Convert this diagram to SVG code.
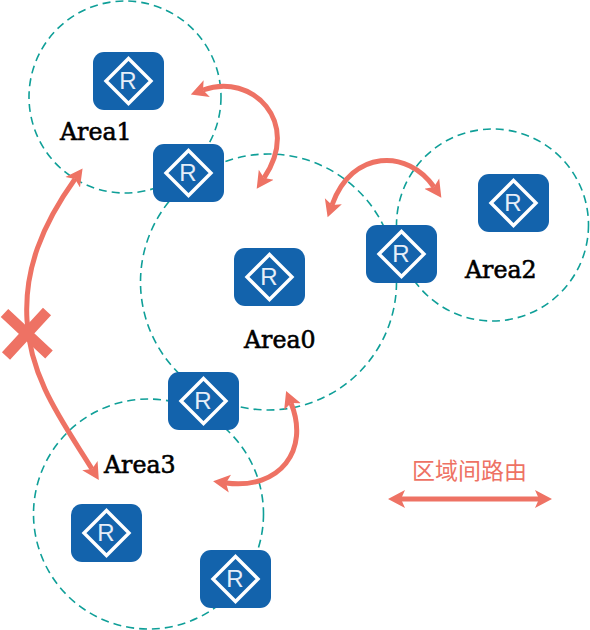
<svg xmlns="http://www.w3.org/2000/svg" width="590" height="630" viewBox="0 0 590 630">
<style>
.area{fill:none;stroke:#0f9f98;stroke-width:1.6;stroke-dasharray:8 5}
.box{fill:#1363ac}
.dia{fill:none;stroke:#fff;stroke-width:3.4}
.r{font:24px "Liberation Sans",Arial,sans-serif;fill:#e6eef8;text-anchor:middle}
.lbl{font:23.700px "DejaVu Serif",serif;fill:#000;stroke:#000;stroke-width:.6}
.arr{fill:none;stroke:#ee7264;stroke-width:5;marker-start:url(#h);marker-end:url(#h)}
</style>
<defs>
<marker id="h" markerUnits="userSpaceOnUse" markerWidth="24" markerHeight="24" refX="4" refY="10" orient="auto-start-reverse" viewBox="0 0 24 20">
<path d="M0 1L17 10L0 19L4 10Z" fill="#ee7264"/>
</marker>
<g id="router">
<rect class="box" x="-35.500" y="-29" width="71" height="58" rx="11"/>
<path class="dia" d="M0-22.500L22.500 0L0 22.500L-22.500 0Z"/>
<text class="r" x="-0.500" y="8">R</text>
</g>
</defs>
<g id="areas">
<circle class="area" cx="125" cy="97" r="96"/>
<circle class="area" cx="268.500" cy="282" r="128"/>
<circle class="area" cx="492.500" cy="225" r="96"/>
<circle class="area" cx="148.500" cy="514" r="115"/>
</g>
<g id="n1"><use href="#router" x="128.500" y="81"/></g>
<g id="n2"><use href="#router" x="188.500" y="173"/></g>
<g id="n3"><use href="#router" x="269.500" y="277"/></g>
<g id="n4"><use href="#router" x="401.500" y="254"/></g>
<g id="n5"><use href="#router" x="513.500" y="203"/></g>
<g id="n6"><use href="#router" x="203.500" y="401"/></g>
<g id="n7"><use href="#router" x="106.500" y="533"/></g>
<g id="n8"><use href="#router" x="235.500" y="579"/></g>
<g id="labels">
<text class="lbl" x="60" y="140">Area1</text>
<text class="lbl" x="244" y="348">Area0</text>
<text class="lbl" x="465" y="277.500">Area2</text>
<text class="lbl" x="104" y="473">Area3</text>
<text x="412" y="479" font-family="'Noto Sans CJK SC',sans-serif" font-size="23" fill="#ee7264">区域间路由</text>
</g>
<g id="connectors">
<path class="arr" d="M203 90C252 72 302 122 264 178"/>
<path class="arr" d="M332 205C352 149 408 149 434 187"/>
<path class="arr" d="M291 403C310 450 280 490 226 483"/>
<path class="arr" d="M75 179C42 225 24 270 27 320C30 380 65 425 92 469"/>
<path class="arr" d="M401 499H539"/>
<path d="M4.500 313L49 354.500M47 311.500L6 356" fill="none" stroke="#ee7264" stroke-width="11"/>
</g>
</svg>
